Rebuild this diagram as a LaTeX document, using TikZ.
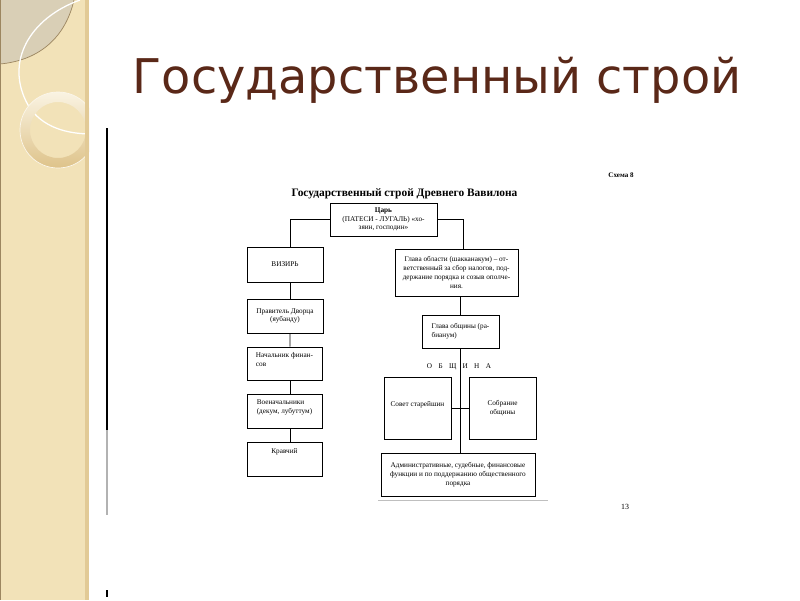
\documentclass[tikz,border=0pt]{standalone}
\usepackage{fontspec}
\setmainfont{Liberation Serif}
\newfontfamily\titlefont{DejaVu Sans}
\usetikzlibrary{calc}
\definecolor{sidebar}{HTML}{F2E2B8}
\definecolor{lens}{HTML}{D9CFB6}
\definecolor{lensedge}{HTML}{9C8660}
\definecolor{ringdark}{HTML}{DEC38A}
\definecolor{sideedge}{HTML}{E2CA96}
\definecolor{titlebrown}{HTML}{5A2818}
\newcommand{\pix}{0.025cm}
\newcommand{\boxfont}{\fontsize{5.15}{6.2}\selectfont}
\tikzset{
	box/.style={draw,line width=0.6pt,align=center,font=\boxfont,inner sep=1pt},
	link/.style={line width=0.6pt}
}
\begin{document}
\begin{tikzpicture}[x=0.025cm,y=-0.025cm]
	\useasboundingbox (0,0) rectangle (800,600);
	\fill[white] (0,0) rectangle (800,600);
	\begin{scope}
		\clip (0,0) rectangle (89,600);
		\fill[sidebar] (0,0) rectangle (89,600);
		\fill[lens] (0,0)--(74,0) .. controls (66,35) and (42,60) .. (0,64)--cycle;
		\draw[lensedge,line width=0.5pt] (74,0) .. controls (66,35) and (42,60) .. (0,64);
		\draw[white,line width=0.9pt] (80,0) .. controls (30,18) and (4,62) .. (28,105) .. controls (42,128) and (68,134) .. (92,134);
		\shade[top color=white!60!sidebar,bottom color=ringdark,even odd rule] (58,130) circle[radius=38] (58,130) circle[radius=28];
		\draw[white!70!sidebar,line width=0.5pt] (58,130) circle[radius=38];
		\fill[sideedge] (85,0) rectangle (89,600);
		\draw[lensedge,line width=0.6pt] (0.3,0)--(0.3,600);
	\end{scope}
	\draw (437,93) node[anchor=base,titlebrown,font=\titlefont\fontsize{34}{40}\selectfont]{Государственный строй};
	\draw[line width=1pt] (107,128)--(107,430);
	\draw[gray!60,line width=0.8pt] (107,430)--(107,515);
	\draw[line width=0.8pt] (107,590)--(107,597);
	\draw (621,177) node[anchor=base,font=\fontsize{5}{6}\selectfont\bfseries]{Схема 8};
	\draw (404.5,196) node[anchor=base,font=\fontsize{8.1}{9}\selectfont\bfseries]{Государственный строй Древнего Вавилона};
	\draw (625,509) node[anchor=base,font=\fontsize{5.6}{6}\selectfont]{13};
	\node[box,minimum width=107*\pix,minimum height=33*\pix] (tsar) at (383.5,219.5) {\textbf{Царь}\\(ПАТЕСИ - ЛУГАЛЬ) «хо-\\зяин, господин»};
	\node[box,minimum width=76*\pix,minimum height=35*\pix] (vizier) at (285,264.5) {ВИЗИРЬ};
	\node[box,minimum width=76*\pix,minimum height=34*\pix] (palace) at (285,316) {Правитель Дворца\\(яубанду)};
	\node[box,align=left,minimum width=75*\pix,minimum height=33*\pix,text depth=6pt] (finance) at (284.5,363.5) {Начальник финан-\\сов};
	\node[box,align=left,minimum width=75*\pix,minimum height=34*\pix,text depth=6pt] (army) at (284.5,411) {Военачальники\\(декум, лубуттум)};
	\node[box,minimum width=75*\pix,minimum height=34*\pix,text depth=11pt] (cupbearer) at (284.5,459) {Кравчий};
	\node[box,minimum width=123*\pix,minimum height=47*\pix] (region) at (456.5,272.5) {Глава области (шакканакум) – от-\\ветственный за сбор налогов, под-\\держание порядка и созыв ополче-\\ния.};
	\node[box,align=left,minimum width=77*\pix,minimum height=33*\pix] (headman) at (460.5,331.5) {Глава общины (ра-\\бианум)};
	\draw (459,368) node[anchor=base,font=\boxfont]{О\hspace{4.5pt}Б\hspace{4.5pt}Щ\hspace{4.5pt}И\hspace{4.5pt}Н\hspace{4.5pt}А};
	\node[box,minimum width=67*\pix,minimum height=62*\pix,text depth=6pt] (elders) at (417.5,408) {Совет старейшин};
	\node[box,minimum width=67*\pix,minimum height=62*\pix] (assembly) at (502.5,408) {Собрание\\общины};
	\node[box,minimum width=154*\pix,minimum height=43*\pix] (duties) at (458,474.5) {Административные, судебные, финансовые\\функции и по поддержанию общественного\\порядка};
	\draw[gray!50,line width=0.5pt] (378,500)--(548,500);
	\draw[link] (tsar.west) -| ($(vizier.north)+(5,0)$);
	\draw[link] (tsar.east) -| ($(region.north)+(7,0)$);
	\draw[link] ($(vizier.south)+(5,0)$)--($(palace.north)+(5,0)$);
	\draw[link] ($(palace.south)+(5,0)$)--($(finance.north)+(5.5,0)$);
	\draw[link] ($(finance.south)+(5.5,0)$)--($(army.north)+(5.5,0)$);
	\draw[link] ($(army.south)+(5.5,0)$)--($(cupbearer.north)+(5.5,0)$);
	\draw[link] (headman.north)--(headman.north|-region.south);
	\draw[link] (headman.south)--(headman.south|-duties.north);
	\draw[link] (elders.east)--(assembly.west);
\end{tikzpicture}
\end{document}
